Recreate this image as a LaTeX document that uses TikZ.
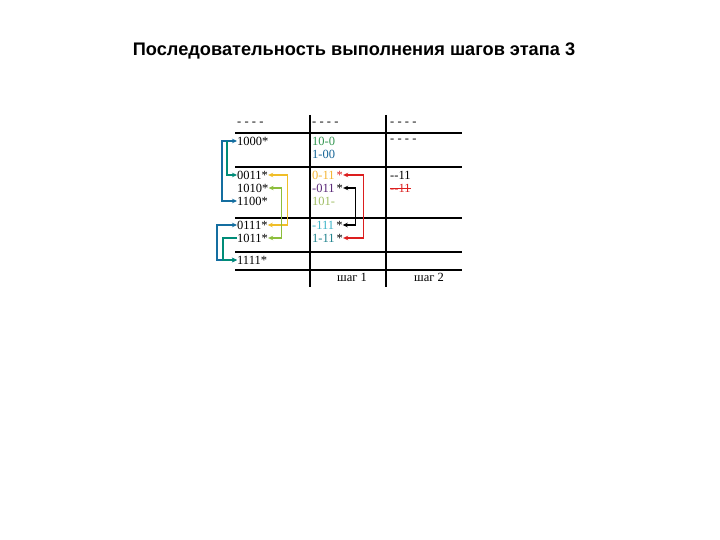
\documentclass[tikz,border=0pt]{standalone}
\usepackage{fontspec}
\setmainfont{Liberation Serif}
\newfontfamily\titlefont{Liberation Sans}
\usetikzlibrary{arrows.meta,calc}
\definecolor{cblue}{RGB}{20,110,160}
\definecolor{cteal}{RGB}{0,140,120}
\definecolor{cyel}{RGB}{240,190,40}
\definecolor{clgreen}{RGB}{140,190,60}
\definecolor{cred}{RGB}{220,30,30}
\definecolor{tgreen}{RGB}{50,150,80}
\definecolor{tblue}{RGB}{20,100,150}
\definecolor{torange}{RGB}{245,180,50}
\definecolor{tpurple}{RGB}{90,40,120}
\definecolor{tlgreen}{RGB}{160,190,100}
\definecolor{tcyan}{RGB}{60,180,200}
\definecolor{tteal}{RGB}{30,130,140}
\newcommand{\dashrow}{-\hspace{3.2pt}-\hspace{3.2pt}-\hspace{3.2pt}-}
\begin{document}
\begin{tikzpicture}[x=1pt,y=-1pt,
  cell/.style={anchor=west,inner sep=0pt,font=\fontsize{12.5}{14}\selectfont},
  grid/.style={line width=1.1pt},
  conn/.style={line width=1.2pt,{Stealth[length=5pt,width=4.5pt]}-{Stealth[length=5pt,width=4.5pt]}},
  connend/.style={line width=1.2pt,-{Stealth[length=5pt,width=4.5pt]}}]
\useasboundingbox[fill=white] (0,0) rectangle (720,540);
% title
\node[inner sep=0pt,font=\titlefont\bfseries\fontsize{18.2}{21}\selectfont] (title) at (354,51) {Последовательность выполнения шагов этапа 3};
% grid
\foreach \yy in {133,167,218,252,270} \draw[grid] (235,\yy) -- (462,\yy);
\draw[grid] (310,115) -- (310,287);
\draw[grid] (386,115) -- (386,287);
% column 1
\node[cell] (d1) at (237,124) {\dashrow};
\node[cell] (n1000) at (237,141) {1000*};
\node[cell] (n0011) at (237,175) {0011*};
\node[cell] (n1010) at (237,188) {1010*};
\node[cell] (n1100) at (237,201) {1100*};
\node[cell] (n0111) at (237,225) {0111*};
\node[cell] (n1011) at (237,238) {1011*};
\node[cell] (n1111) at (237,260) {1111*};
% column 2
\node[cell] (d2) at (312,124) {\dashrow};
\node[cell,text=tgreen] (m100) at (312,141) {10-0};
\node[cell,text=tblue] (m1a00) at (312,154) {1-00};
\node[cell] (m0a11) at (312,175) {\textcolor{torange}{0-11}\,\textcolor{cred}{*}};
\node[cell] (ma011) at (312,188) {\textcolor{tpurple}{-011}\,*};
\node[cell,text=tlgreen] (m101a) at (312,201) {101-};
\node[cell] (ma111) at (312,225) {\textcolor{tcyan}{-111}\,*};
\node[cell] (m1a11) at (312,238) {\textcolor{tteal}{1-11}\,*};
\node[cell] (s1) at (337,277) {шаг 1};
% column 3
\node[cell] (d3) at (390,124) {\dashrow};
\node[cell] (d4) at (390,141) {\dashrow};
\node[cell] (k1) at (390,175) {-{}-11};
\node[cell,text=cred] (k2) at (390,188) {-{}-11};
\draw[cred,line width=0.9pt] (k2.west) -- (k2.east);
\node[cell] (s2) at (414,277) {шаг 2};
% left arrows
\draw[conn,cblue] (n1000.west) -- ++(-15,0) |- (n1100.west);
\draw[connend,cteal] ($(n1000.west)+(-10,0)$) |- (n0011.west);
\draw[conn,cblue] (n0111.west) -- ++(-20,0) |- (n1111.west);
\draw[connend,cteal] (n1011.west) -- ++(-14,0) |- (n1111.west);
% right arrows col 1
\draw[conn,cyel] (n0011.east) -- ++(19,0) |- (n0111.east);
\draw[conn,clgreen] (n1010.east) -- ++(13,0) |- (n1011.east);
% right arrows col 2
\draw[conn,cred] (m0a11.east) -- ++(20,0) |- (m1a11.east);
\draw[conn,black] (ma011.east) -- ++(12,0) |- (ma111.east);
\end{tikzpicture}
\end{document}
